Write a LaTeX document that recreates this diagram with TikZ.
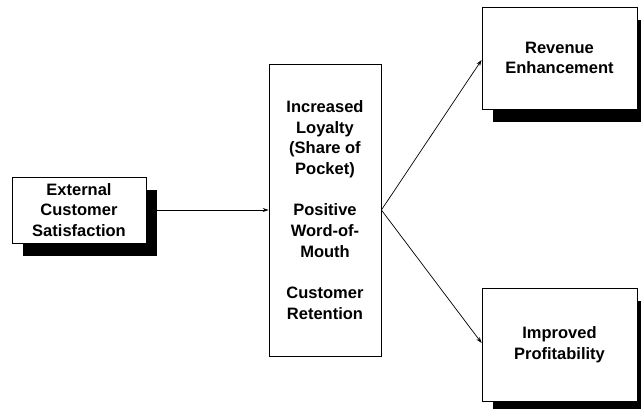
\documentclass[tikz,border=0pt]{standalone}
\usepackage{fontspec}
\setmainfont{Liberation Sans}
\usetikzlibrary{shadows,arrows.meta}
\begin{document}
\begin{tikzpicture}[x=1pt,y=-1pt,
  box/.style={draw=black, line width=0.8pt, fill=white, align=center, inner sep=0pt,
    font=\fontsize{16.5}{20.7}\selectfont\bfseries},
  shbox/.style={box, general shadow={shadow xshift=11pt, shadow yshift=-13pt, fill=black}},
  conn/.style={line width=0.7pt, -{Stealth[length=6pt,width=4pt]}}]
\useasboundingbox (0,0) rectangle (641,409);
\node[shbox, minimum width=134pt, minimum height=66pt] (ext) at (79,210) {External\\Customer\\Satisfaction};
\node[box, minimum width=112pt, minimum height=292pt] (mid) at (325,210) {Increased\\Loyalty\\(Share of\\Pocket)\\[20.7pt]Positive\\Word-of-\\Mouth\\[20.7pt]Customer\\Retention};
\node[shbox, minimum width=155pt, minimum height=102pt] (rev) at (559.5,58) {Revenue\\Enhancement};
\node[shbox, minimum width=155pt, minimum height=113pt] (imp) at (559.5,344.5) {Improved\\Profitability};
\draw[conn] (ext.east) -- (mid.west);
\draw[conn] (mid.east) -- (rev.west |- 0,60);
\draw[conn] (mid.east) -- (imp.west |- 0,343);
\end{tikzpicture}
\end{document}
